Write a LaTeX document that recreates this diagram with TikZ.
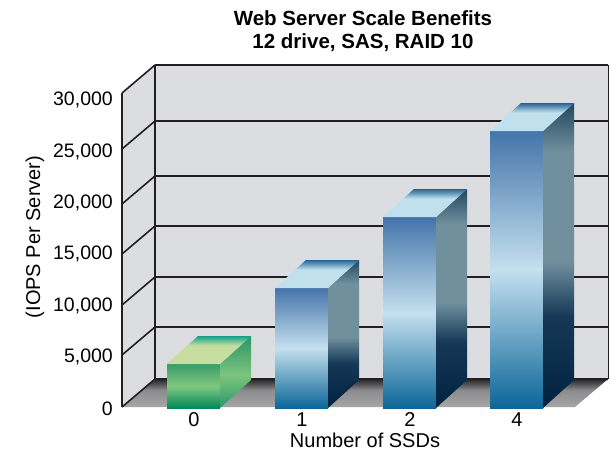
\documentclass[tikz,border=0pt]{standalone}
\usepackage{fontspec}
\setmainfont{Liberation Sans}
\definecolor{wallgray}{RGB}{220,221,224}
\definecolor{linegray}{RGB}{35,31,32}
\definecolor{bftop}{RGB}{68,116,170}
\definecolor{bfmid}{RGB}{196,224,238}
\definecolor{bfbot}{RGB}{12,102,152}
\definecolor{bstop}{RGB}{34,70,96}
\definecolor{bsmid}{RGB}{112,144,158}
\definecolor{bsdark}{RGB}{20,56,86}
\definecolor{bsbot}{RGB}{0,34,64}
\definecolor{bttop}{RGB}{36,100,148}
\definecolor{btbot}{RGB}{192,224,238}
\definecolor{gftop}{RGB}{58,154,104}
\definecolor{gfmid}{RGB}{128,200,128}
\definecolor{gfbot}{RGB}{0,136,90}
\definecolor{gstop}{RGB}{40,150,100}
\definecolor{gsmid}{RGB}{126,196,126}
\definecolor{gsbot}{RGB}{40,152,104}
\definecolor{gttop}{RGB}{20,160,140}
\definecolor{gtbot}{RGB}{200,222,160}
\definecolor{floorfront}{RGB}{166,166,168}
\definecolor{floormid}{RGB}{140,140,142}
\definecolor{floorback}{RGB}{36,36,36}
\pgfdeclareverticalshading{bluefront}{100bp}{color(0bp)=(bfbot); color(25bp)=(bfbot); color(50bp)=(bfmid); color(75bp)=(bftop); color(100bp)=(bftop)}
\pgfdeclareverticalshading{blueside}{100bp}{color(0bp)=(bsbot); color(25bp)=(bsbot); color(40bp)=(bsdark); color(49bp)=(bsmid); color(67bp)=(bsmid); color(75bp)=(bstop); color(100bp)=(bstop)}
\pgfdeclareverticalshading{bluetop}{100bp}{color(0bp)=(btbot); color(25bp)=(btbot); color(58bp)=(btbot); color(75bp)=(bttop); color(100bp)=(bttop)}
\pgfdeclareverticalshading{greenfront}{100bp}{color(0bp)=(gfbot); color(25bp)=(gfbot); color(50bp)=(gfmid); color(75bp)=(gftop); color(100bp)=(gftop)}
\pgfdeclareverticalshading{greenside}{100bp}{color(0bp)=(gsbot); color(25bp)=(gsbot); color(48bp)=(gsmid); color(75bp)=(gstop); color(100bp)=(gstop)}
\pgfdeclareverticalshading{greentop}{100bp}{color(0bp)=(gtbot); color(25bp)=(gtbot); color(58bp)=(gtbot); color(75bp)=(gttop); color(100bp)=(gttop)}
\pgfdeclareverticalshading{floorshade}{100bp}{color(0bp)=(floorfront); color(25bp)=(floorfront); color(55bp)=(floormid); color(75bp)=(floorback); color(100bp)=(floorback)}
\begin{document}
\begin{tikzpicture}[x=1pt,y=-1pt,
    gridline/.style={draw=linegray,line width=1.6pt},
    tick/.style={anchor=east,inner sep=0pt,font=\fontsize{19.5}{22}\selectfont},
    axislabel/.style={font=\fontsize{20}{22}\selectfont}]
  \useasboundingbox[fill=white] (0,0) rectangle (610,450);
  \fill[wallgray] (155,65) rectangle (608,379);
  \fill[wallgray] (122,93) -- (155,65) -- (155,379) -- (122,407) -- cycle;
  \shade[shading=floorshade] (122,407) -- (155,379) -- (608,379) -- (575,407) -- cycle;
  \foreach \yb/\yl/\lab in {379/408.5/0, 327/357/{5,000}, 277/305.7/{10,000}, 226/254.3/{15,000},
      176/203/{20,000}, 121/151.5/{25,000}, 65/100/{30,000}} {
    \draw[gridline] (155,\yb) -- (608,\yb);
    \draw[gridline] (122,{\yb+28}) -- (155,\yb);
    \node[tick] (tick\yb) at (113,\yl) {\lab};
  }
  \draw[gridline] (122,93) -- (122,407);
  \draw[gridline] (155,65) -- (155,379);
  \draw[draw=linegray,line width=1pt] (608,65) -- (608,379);
  \foreach \n/\xa/\yt/\col in {0/167/364/green, 1/275/288/blue, 2/383/217/blue, 4/490/131/blue} {
    \shade[shading=\col front] (\xa,408) rectangle ({\xa+53},\yt);
    \shade[shading=\col side] ({\xa+53},408) -- ({\xa+84},380) -- ({\xa+84},{\yt-28}) -- ({\xa+53},\yt) -- cycle;
    \shade[shading=\col top] (\xa,\yt) -- ({\xa+53},\yt) -- ({\xa+84},{\yt-28}) -- ({\xa+31},{\yt-28}) -- cycle;
    \node[axislabel] (bar\n) at ({\xa+27},420) {\n};
  }
  \node[align=center,font=\bfseries\fontsize{20.5}{22.5}\selectfont] (title) at (363,31)
    {Web Server Scale Benefits\\12 drive, SAS, RAID 10};
  \node[axislabel,rotate=90] (ylabel) at (35,237) {(IOPS Per Server)};
  \node[axislabel,inner sep=0pt] (xlabel) at (365,440) {Number of SSDs};
\end{tikzpicture}
\end{document}
